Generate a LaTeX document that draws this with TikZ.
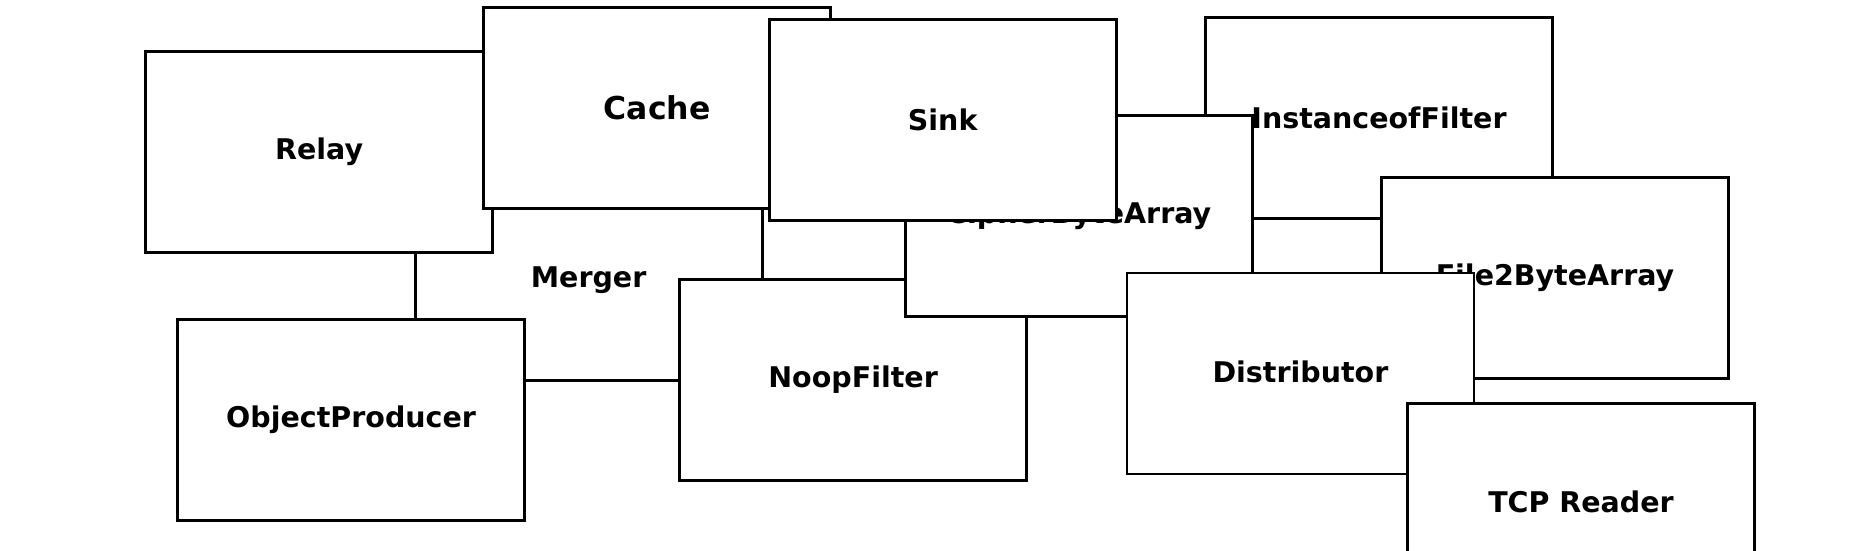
\documentclass[tikz,border=0pt]{standalone}
\usepackage{fontspec}
\setmainfont{DejaVu Sans}
\usepackage{tikz}

\begin{document}
\begin{tikzpicture}[x=1pt,y=-1pt,
  box/.style={draw,line width=2.8pt,fill=white,minimum width=347pt,minimum height=201pt,
    inner sep=0pt,font=\bfseries\fontsize{28.5}{34}\selectfont}]
  \useasboundingbox (0,0) rectangle (1874,550);
  \node[box] (merger) at (588.6,279.7) {Merger};
  \node[box] (relay) at (319.1,151.8) {Relay};
  \node[box,font=\bfseries\fontsize{31.5}{38}\selectfont] (cache) at (657.1,107.9) {Cache};
  \node[box] (producer) at (351.1,420.1) {ObjectProducer};
  \node[box] (noop) at (853.1,380.1) {\raisebox{3pt}{NoopFilter}};
  \node[box] (instanceof) at (1379,117.7) {InstanceofFilter};
  \node[box] (cipher) at (1078.7,215.7) {CipherByteArray};
  \node[box] (sink) at (942.7,120.1) {Sink};
  \node[box] (file2) at (1555,277.6) {File2ByteArray};
  \node[box] (distributor) at (1300.4,373.5) {\raisebox{4pt}{Distributor}};
  \node[box] (tcp) at (1581,504.2) {\raisebox{5pt}{TCP Reader}};
\end{tikzpicture}
\end{document}
